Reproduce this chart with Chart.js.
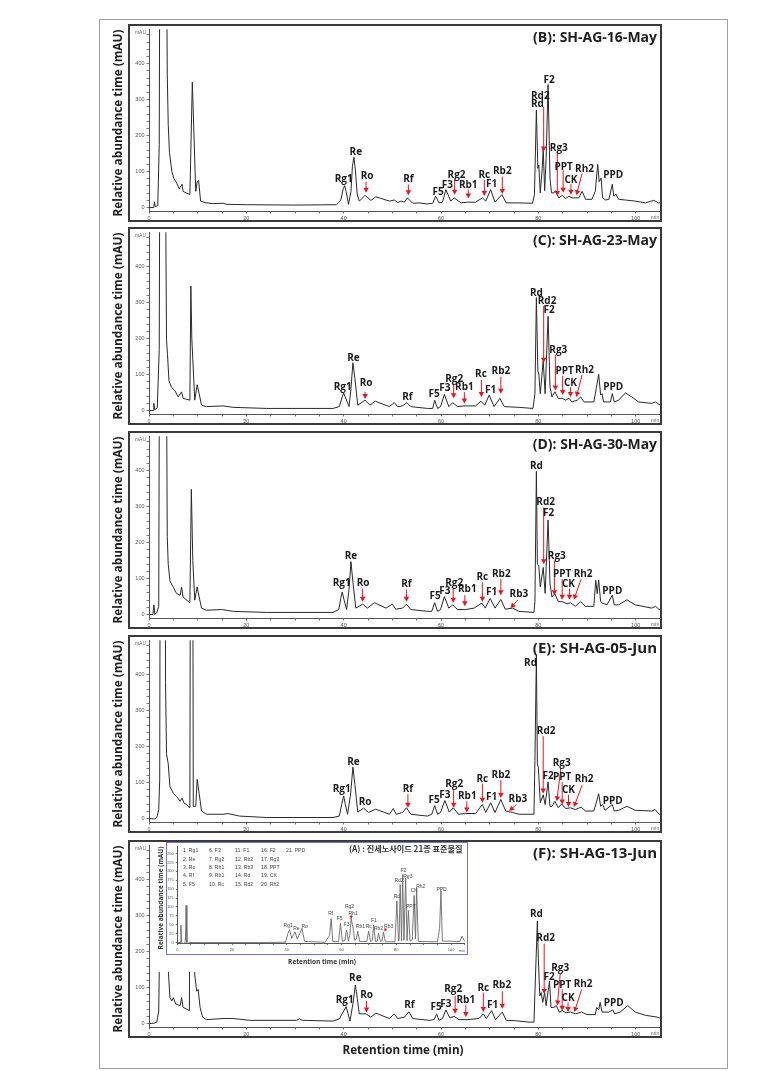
<!DOCTYPE html>
<html>
<head>
<meta charset="utf-8">
<script src="https://cdn.jsdelivr.net/npm/chart.js@4.4.1/dist/chart.umd.min.js"></script>
<style>
  body { margin: 0; background: #fff; width: 777px; height: 1071px; position: relative; overflow: hidden; font-family: "Open Sans", sans-serif; }
  canvas { position: absolute; }
  .box { position: absolute; border: 2px solid #3a3a3a; box-sizing: border-box; pointer-events: none; }
  .frame { position: absolute; left: 99px; top: 19px; width: 629px; height: 1050px; border: 1px solid #a0a0a0; box-sizing: border-box; }
  .inset-box { position: absolute; left: 166px; top: 842px; width: 302px; height: 113px; border: 1.5px solid #7474d8; box-sizing: border-box; pointer-events: none; }
  .t { position: absolute; white-space: nowrap; font-weight: 700; color: #1e1e1e; line-height: 1; }
</style>
</head>
<body>
<div class="frame"></div>
<script>
// ---- data: [retention time (min), abundance (mAU)] ----
const traceB = [[0,0],[1.0,0],[1.1,16],[1.3,3],[1.8,5],[2.1,176],[2.4,1500],[3.3,1500],[3.75,371],[3.95,231],[4.2,154],[4.7,100],[5.1,81],[5.7,68],[6.2,52],[6.8,65],[7.0,45],[8.4,36],[8.9,349],[9.6,45],[9.9,72],[10.2,75],[10.6,18],[11.5,14],[13,11],[15.2,12],[16,9],[20,8],[30,7],[38.5,8],[39.4,20],[39.9,52],[40.2,61],[40.5,45],[41.0,9],[41.5,45],[41.8,115],[42.1,140],[42.4,105],[42.8,35],[43.2,18],[44.4,34],[45.6,20],[46.6,30],[49.4,18],[50.4,21],[51.1,14],[51.8,18],[52.5,15],[53.1,27],[54.2,12],[55.5,13],[57.2,10],[58.3,12],[58.9,32],[59.6,13],[60.3,15],[61.0,50],[62.0,18],[62.7,27],[64.1,13],[65.4,15],[67.1,15],[68.5,27],[69.2,18],[70.2,50],[71.1,15],[72.5,36],[73.4,13],[76.0,13],[78.8,12],[79.2,36],[79.6,271],[79.9,109],[80.1,118],[80.4,41],[80.8,109],[81.0,163],[81.3,47],[81.6,136],[82.0,342],[82.4,82],[82.7,41],[83.2,41],[83.5,47],[84.2,27],[84.9,34],[85.6,25],[86.3,32],[86.9,27],[87.6,27],[88.3,27],[89.0,45],[89.7,23],[91.0,23],[91.7,45],[92.2,120],[92.5,72],[92.9,82],[93.2,27],[93.8,21],[94.5,23],[95.2,65],[95.5,32],[95.9,38],[96.5,23],[97.9,21],[99.9,18],[102.0,13],[103.7,20],[104.7,13],[105,13]];
const traceC = [[0,0],[0.9,0],[1.0,20],[1.15,3],[1.7,7],[2.1,169],[2.4,1500],[3.0,1500],[3.6,197],[3.8,156],[4.1,83],[4.6,65],[5.3,56],[6.0,38],[6.7,52],[7.0,34],[8.4,29],[8.6,346],[8.8,200],[9.4,29],[9.9,72],[10.3,47],[10.8,15],[11.8,11],[15.2,13],[17.3,9],[24.1,6],[37.8,6],[39.1,11],[39.7,38],[40.0,49],[40.4,35],[41.1,11],[41.5,60],[41.9,133],[42.3,90],[42.9,15],[44.4,29],[45.4,15],[46.5,26],[49.4,11],[50.4,22],[51.1,11],[52.1,13],[53.0,22],[53.8,11],[57.2,6],[58.3,6],[58.7,29],[59.3,6],[59.9,11],[60.7,45],[61.6,11],[62.4,22],[63.4,11],[64.8,13],[67.1,13],[68.2,26],[69.0,15],[69.9,43],[70.9,11],[72.1,34],[73.0,11],[76.0,9],[78.9,6],[79.3,47],[79.6,314],[79.9,110],[80.1,101],[80.4,47],[81.0,138],[81.4,47],[82.0,262],[82.4,65],[82.8,38],[83.4,52],[84.1,34],[84.9,34],[85.6,29],[86.3,34],[86.9,24],[88.0,29],[88.7,38],[89.4,24],[91.4,24],[91.9,61],[92.4,101],[92.8,43],[93.1,47],[93.4,24],[94.8,24],[95.2,47],[95.6,24],[96.5,29],[97.9,49],[99.2,38],[100.6,24],[103.3,20],[104.1,24],[104.8,17],[105,17]];
const traceD = [[0,0],[0.8,0],[1.0,27],[1.2,0],[1.6,6],[2.0,23],[2.3,1500],[3.3,1500],[3.75,217],[3.95,140],[4.3,94],[4.6,85],[5.0,76],[5.7,58],[6.4,54],[6.7,76],[7.0,49],[8.1,36],[8.4,33],[8.7,348],[9.0,150],[9.4,40],[9.9,77],[10.3,49],[10.8,18],[11.8,12],[14.9,14],[17.3,9],[24.1,6],[37.8,6],[39.0,14],[39.4,45],[39.7,63],[40.1,40],[40.6,14],[41.1,70],[41.5,147],[41.9,90],[42.5,18],[43.9,29],[44.9,18],[46.3,33],[48.7,18],[50.0,29],[50.7,15],[52.1,18],[52.9,29],[53.8,14],[57.2,9],[58.1,9],[58.7,33],[59.3,9],[59.9,14],[60.7,50],[61.6,18],[62.4,27],[63.4,14],[65.1,14],[66.8,18],[68.4,32],[69.1,18],[70.1,45],[71.1,18],[72.3,42],[73.2,15],[74.7,18],[76.0,9],[79.1,6],[79.3,36],[79.6,398],[79.8,140],[80.1,136],[80.4,77],[81.0,131],[81.4,59],[82.0,263],[82.4,86],[82.8,49],[83.4,58],[84.1,36],[84.9,36],[85.9,30],[86.6,33],[87.6,23],[88.7,36],[89.7,23],[91.4,23],[91.8,95],[92.1,58],[92.4,96],[92.8,36],[93.2,32],[94.1,27],[95.2,54],[95.6,27],[96.5,27],[98.2,41],[99.9,27],[103.3,18],[104.1,23],[104.8,14],[105,14]];
const traceE = [[0,0],[1.2,-1],[1.6,3],[2.0,25],[2.2,107],[2.4,1500],[3.2,1500],[3.4,378],[3.6,180],[3.95,152],[4.3,89],[5.0,70],[5.7,61],[6.4,48],[6.8,57],[7.2,43],[7.7,39],[8.4,30],[8.6,1500],[8.9,1500],[9.1,34],[9.6,34],[9.9,109],[10.3,70],[10.8,21],[11.8,12],[15.2,12],[16.2,14],[18.6,7],[24.1,3],[37.8,3],[39.1,7],[39.6,40],[40.0,63],[40.3,42],[40.8,12],[41.4,65],[41.9,143],[42.3,95],[42.9,18],[44.1,29],[45.1,17],[46.6,26],[49.4,12],[50.2,28],[50.8,12],[52.1,17],[52.9,30],[53.8,12],[57.2,7],[58.1,12],[58.7,36],[59.3,12],[59.9,17],[60.8,50],[61.7,18],[62.5,30],[63.6,12],[65.1,14],[67.1,14],[68.5,39],[69.2,17],[70.2,44],[71.1,17],[72.3,53],[73.3,21],[74.7,17],[76.0,12],[79.1,12],[79.3,161],[79.6,455],[79.8,152],[80.0,143],[80.4,44],[81.0,66],[81.4,39],[82.0,102],[82.4,34],[82.8,34],[83.4,48],[84.1,30],[84.8,41],[85.6,28],[86.6,30],[87.6,25],[88.8,32],[89.7,21],[91.4,21],[91.9,44],[92.4,69],[92.8,34],[93.2,39],[93.7,23],[95.2,39],[95.6,21],[96.5,23],[98.2,34],[99.9,23],[103.3,21],[104.0,25],[104.8,12],[105,12]];
const traceF = [[0,0],[1.0,1],[1.6,4],[2.0,35],[2.1,140],[2.4,1500],[3.5,1500],[4.0,140],[4.3,72],[4.7,63],[5.0,72],[5.5,54],[6.4,50],[6.7,72],[7.0,45],[7.6,41],[8.3,36],[8.6,1500],[9.1,1500],[9.4,135],[9.8,90],[10.1,95],[10.5,45],[11.0,18],[11.8,11],[15.2,14],[17.3,14],[20.7,9],[30.3,9],[30.9,13],[31.5,9],[37.8,7],[39.1,13],[40.0,35],[40.5,47],[40.9,28],[41.3,7],[41.9,55],[42.4,107],[42.8,70],[43.2,27],[44.6,27],[45.6,18],[46.6,29],[49.4,14],[50.4,27],[51.1,14],[52.5,18],[53.4,33],[54.2,14],[57.6,9],[58.6,11],[59.1,27],[59.6,9],[60.3,14],[61.0,38],[61.8,16],[62.7,20],[63.7,11],[65.4,11],[67.8,14],[68.7,27],[69.3,14],[70.4,36],[71.2,11],[72.6,32],[73.4,9],[75.3,8],[78.1,4],[79.1,4],[79.4,127],[79.8,285],[80.0,181],[80.3,77],[80.6,86],[80.9,59],[81.3,86],[81.6,50],[82.3,118],[82.6,45],[83.2,45],[83.7,50],[84.3,32],[84.9,36],[85.7,30],[86.6,32],[87.6,27],[88.9,32],[90.0,25],[91.7,25],[92.0,45],[92.4,38],[92.7,59],[93.1,32],[94.5,32],[95.3,38],[95.7,27],[96.8,32],[98.4,50],[99.9,32],[102.0,23],[104.4,18],[105,15]];
// (A) standard mixture shown in the inset
const traceA = [[0,0],[1.0,0],[1.3,49],[1.6,0],[2.5,-5],[2.8,0],[3.0,10],[3.2,104],[3.5,0],[3.8,-4],[4.2,0],[10,0],[30,0],[39.5,1],[40.4,25],[41.0,36],[41.8,12],[42.5,22],[43.0,30],[43.8,10],[44.7,24],[45.5,40],[46.5,3],[54,1],[55.6,20],[56.2,67],[56.8,3],[58.9,2],[59.6,54],[60.3,3],[61.2,6],[61.8,35],[62.5,5],[63.0,20],[63.5,68],[64.2,40],[64.8,6],[65.4,10],[65.9,32],[66.6,3],[69.2,3],[69.9,32],[70.6,3],[71.2,6],[71.7,49],[72.4,3],[73.0,4],[73.5,26],[74.2,3],[74.8,5],[75.3,29],[76,2],[79.5,2],[80.2,117],[80.8,4],[81.0,10],[81.4,163],[81.9,5],[82.3,191],[82.8,6],[83.4,181],[83.9,5],[84.4,90],[85.0,4],[85.8,8],[86.5,132],[87.0,10],[87.4,154],[88.0,3],[95,2],[95.8,40],[96.3,146],[96.8,4],[103.2,3],[104,18],[104.8,5],[105,4]];

// peak labels: [name, time, mAU]
const labelsB = [['Rg1',40.0,79],['Re',42.5,154],['Ro',44.8,86],['Rf',53.3,79],['F5',59.4,43],['F3',61.3,63],['Rg2',63.2,89],['Rb1',65.6,63],['Rc',68.9,90],['F1',70.4,65],['Rb2',72.6,101],['Rd',79.8,287],['Rd2',80.4,310],['F2',82.2,355],['Rg3',84.2,166],['PPT',85.2,113],['CK',86.7,77],['Rh2',89.5,106],['PPD',95.4,89]];
const labelsC = [['Rg1',39.8,65],['Re',42.0,147],['Ro',44.6,76],['Rf',53.1,38],['F5',58.6,47],['F3',60.8,62],['Rg2',62.7,88],['Rb1',64.8,65],['Rc',68.2,100],['F1',70.2,58],['Rb2',72.3,109],['Rd',79.6,326],['Rd2',81.8,303],['F2',82.2,280],['Rg3',84.1,169],['PPT',85.4,110],['CK',86.6,77],['Rh2',89.5,113],['PPD',95.4,65]];
const labelsD = [['Rg1',39.6,86],['Re',41.5,163],['Ro',44.0,88],['Rf',52.9,84],['F5',58.8,50],['F3',60.8,66],['Rg2',62.7,88],['Rb1',65.4,70],['Rc',68.5,104],['F1',70.4,61],['Rb2',72.4,113],['Rb3',76.0,57],['Rd',79.6,412],['Rd2',81.5,312],['F2',82.1,281],['Rg3',83.8,163],['PPT',84.9,111],['CK',86.2,84],['Rh2',89.2,113],['PPD',95.2,65]];
const labelsE = [['Rg1',39.6,82],['Re',42.0,156],['Ro',44.4,46],['Rf',53.2,81],['F5',58.6,50],['F3',60.8,66],['Rg2',62.7,96],['Rb1',65.4,61],['Rc',68.5,110],['F1',70.4,60],['Rb2',72.3,120],['Rb3',75.8,55],['Rd',78.4,433],['Rd2',81.6,243],['F2',82.0,118],['Rg3',84.8,154],['PPT',84.9,116],['CK',86.2,80],['Rh2',89.4,109],['PPD',95.3,48]];
const labelsF = [['Rg1',40.2,65],['Re',42.4,127],['Ro',44.7,79],['Rf',53.5,52],['F5',59.0,45],['F3',61.0,54],['Rg2',62.5,95],['Rb1',65.1,66],['Rc',68.7,99],['F1',70.6,52],['Rb2',72.5,106],['Rd',79.6,303],['Rd2',81.5,237],['F2',82.2,128],['Rg3',84.5,154],['PPT',84.9,107],['CK',86.1,71],['Rh2',89.2,109],['PPD',95.5,56]];
const labelsA = [['Rg1',40.5,48],['Re',43.5,40],['Ro',46.5,46],['Rf',56.0,80],['F5',59.3,66],['F3',61.8,50],['Rg2',62.9,101],['Rh1',64.2,82],['Rb1',66.9,46],['Rc',69.9,46],['F1',71.8,62],['Rb2',73.5,39],['Rb3',77.2,46],['Rd',80.2,129],['Rd2',81.0,175],['F2',82.6,201],['Rg3',84.2,185],['PPT',85.3,102],['CK',86.5,145],['Rh2',88.9,158],['PPD',96.5,150]];

// red arrows: [fromTime, fromMAU, toTime, toMAU]
const arrowsB = [[44.6,72,44.6,41],[53.3,64,53.3,34],[62.8,78,62.8,36],[65.6,50,65.6,25],[68.9,77,68.9,32],[72.6,86,72.6,38],[81.1,281,81.1,156],[83.9,154,83.9,32],[85.1,104,85.1,41],[86.7,65,86.7,36],[89.0,95,87.8,34]];
const arrowsC = [[44.4,52,44.4,32],[62.6,75,62.6,34],[64.8,51,64.8,20],[68.3,85,68.3,38],[72.3,94,72.3,47],[81.1,291,81.1,133],[83.5,155,83.5,56],[85.0,97,85.0,43],[86.6,65,86.6,38],[89.0,99,87.8,38]];
const arrowsD = [[43.9,72,43.9,36],[52.9,70,52.9,36],[62.5,72,62.5,33],[64.9,54,64.9,23],[68.5,90,68.5,36],[72.3,99,72.3,54],[75.8,41,74.3,18],[81.1,298,81.1,140],[83.3,149,83.3,54],[84.9,99,84.9,41],[86.4,72,86.4,41],[88.8,99,87.3,41]];
const arrowsE = [[53.2,68,53.2,30],[62.6,79,62.6,30],[65.3,48,65.3,17],[68.5,97,68.5,44],[72.3,107,72.3,57],[75.5,39,74.0,21],[81.0,229,81.0,70],[84.6,138,83.8,48],[84.9,102,84.9,39],[86.2,66,86.2,32],[89.0,93,87.3,32]];
const arrowsF = [[44.7,63,44.7,31],[62.9,77,62.9,27],[65.1,52,65.1,18],[68.7,86,68.7,32],[72.6,90,72.6,41],[81.2,222,81.2,82],[84.5,138,83.9,50],[84.9,95,84.9,36],[86.1,59,86.1,32],[88.9,95,87.4,32]];
const arrowsA = [[63.5,78,63.5,66],[76.3,40,75.6,31]];

// axes
const xTickLabels = [0, 20, 40, 60, 80, 100];
const yTickLabels = [0, 100, 200, 300, 400];
const insetYTickLabels = [0, 25, 50, 75, 100, 125, 150, 175, 200, 225, 250];
const panelTitles = ['(B): SH-AG-16-May', '(C): SH-AG-23-May', '(D): SH-AG-30-May', '(E): SH-AG-05-Jun', '(F): SH-AG-13-Jun'];
const standards = ['Rg1','Re','Ro','Rf','F5','F3','Rg2','Rh1','Rb1','Rc','F1','Rb2','Rb3','Rd','Rd2','F2','Rg3','PPT','CK','Rh2','PPD'];

const traces = [traceB, traceC, traceD, traceE, traceF];
const labelSets = [labelsB, labelsC, labelsD, labelsE, labelsF];
const arrowSets = [arrowsB, arrowsC, arrowsD, arrowsE, arrowsF];

const boxLeft = 128, boxW = 534, boxH = 198;
const boxTops = [24, 227, 431, 635, 840];

function steps(a, b, s) { const r = []; for (let v = a; v <= b + 1e-9; v += s) r.push(v); return r; }

const annotate = {
  id: 'annotate',
  afterDatasetsDraw(chart, args, o) {
    const { ctx, scales: { x, y } } = chart;
    ctx.save();
    ctx.strokeStyle = o.arrowColor; ctx.fillStyle = o.arrowColor; ctx.lineWidth = o.arrowWidth;
    o.arrows.forEach(a => {
      const x1 = x.getPixelForValue(a[0]), y1 = y.getPixelForValue(a[1]);
      const x2 = x.getPixelForValue(a[2]), y2 = y.getPixelForValue(a[3]);
      const ang = Math.atan2(y2 - y1, x2 - x1), c = Math.cos(ang), s = Math.sin(ang), h = o.head, w = o.head * 0.55;
      ctx.beginPath(); ctx.moveTo(x1, y1); ctx.lineTo(x2 - c * h * 0.7, y2 - s * h * 0.7); ctx.stroke();
      ctx.beginPath(); ctx.moveTo(x2, y2);
      ctx.lineTo(x2 - c * h - s * w, y2 - s * h + c * w);
      ctx.lineTo(x2 - c * h + s * w, y2 - s * h - c * w);
      ctx.closePath(); ctx.fill();
    });
    ctx.font = o.font; ctx.fillStyle = o.color; ctx.textAlign = 'center'; ctx.textBaseline = 'middle';
    o.labels.forEach(l => ctx.fillText(l[0], x.getPixelForValue(l[1]), y.getPixelForValue(l[2])));
    ctx.font = o.smallFont; ctx.fillStyle = '#666';
    if (o.unit) { ctx.textAlign = 'right'; ctx.fillText('mAU', x.left - 3, y.top + 3); }
    ctx.textAlign = 'center';
    ctx.fillText('min', x.getPixelForValue(104), x.top + o.minOffset);
    ctx.restore();
  }
};

const whiteBg = {
  id: 'whiteBg',
  beforeDraw(chart) { const c = chart.ctx; c.save(); c.fillStyle = '#fff'; c.fillRect(0, 0, chart.width, chart.height); c.restore(); }
};

function makeCanvas(left, top, w, h) {
  const c = document.createElement('canvas');
  c.width = w; c.height = h;
  c.style.left = left + 'px'; c.style.top = top + 'px';
  document.body.appendChild(c);
  return c;
}

function axis(min, max, step, labelled, size, width, tick) {
  return {
    type: 'linear', min: min, max: max,
    afterBuildTicks: s => { s.ticks = steps(Math.max(0, min), max, step).map(v => ({ value: v })); },
    grid: { drawOnChartArea: false, drawTicks: true, tickLength: tick, color: '#777' },
    border: { color: '#555', width: 1 },
    ticks: { autoSkip: false, maxRotation: 0, minRotation: 0, padding: 2, color: '#555',
      font: { size: size, family: '"Liberation Sans", Arial' },
      callback: v => labelled.includes(Math.round(v * 100) / 100) ? String(v) : '' }
  };
}

traces.forEach((tr, i) => {
  const cv = makeCanvas(boxLeft, boxTops[i], boxW, boxH);
  const xs = axis(0, 105, 5, xTickLabels, 5.5, 1, 2.5);
  xs.afterFit = s => { s.height = 11; };
  const ys = axis(-9.5, 495.5, 20, yTickLabels, 5.5, 1, 2.5);
  ys.afterFit = s => { s.width = 21; };
  new Chart(cv, {
    type: 'line',
    data: { datasets: [{ data: tr.map(p => ({ x: p[0], y: p[1] })), borderColor: '#2a2a2a', borderWidth: 1, pointRadius: 0, tension: 0 }] },
    options: {
      responsive: false, animation: false, events: [],
      layout: { padding: { left: 0, right: 1, top: 1, bottom: 0 } },
      plugins: { legend: { display: false }, tooltip: { enabled: false },
        annotate: { labels: labelSets[i], arrows: arrowSets[i], font: 'bold 10px "Open Sans"', color: '#1a1a1a',
          arrowColor: '#e5161e', arrowWidth: 1, head: 5, unit: true, smallFont: '5px "Liberation Sans"', minOffset: 6.5 } },
      scales: { x: xs, y: ys }
    },
    plugins: [annotate]
  });
  const b = document.createElement('div');
  b.className = 'box';
  b.style.left = boxLeft + 'px'; b.style.top = boxTops[i] + 'px'; b.style.width = boxW + 'px'; b.style.height = boxH + 'px';
  document.body.appendChild(b);
});

// inset: standard mixture (A)
(function () {
  const cv = makeCanvas(153, 842, 317, 130);
  const xs = axis(0, 105, 5, xTickLabels, 4, 1, 1.5);
  xs.afterFit = s => { s.height = 28.4; };
  const ys = axis(-3, 270, 25, insetYTickLabels, 4, 1, 1.5);
  ys.afterFit = s => { s.width = 24.3; };
  new Chart(cv, {
    type: 'line',
    data: { datasets: [{ data: traceA.map(p => ({ x: p[0], y: p[1] })), borderColor: '#6a6a6a', borderWidth: 0.9, pointRadius: 0, tension: 0 }] },
    options: {
      responsive: false, animation: false, events: [],
      layout: { padding: { left: 0, right: 5.2, top: 3.3, bottom: 0 } },
      plugins: { legend: { display: false }, tooltip: { enabled: false },
        annotate: { labels: labelsA, arrows: arrowsA, font: '5px "Liberation Sans"', color: '#444',
          arrowColor: '#e5161e', arrowWidth: 0.8, head: 3, unit: false, smallFont: '4px "Liberation Sans"', minOffset: 7 } },
      scales: { x: xs, y: ys }
    },
    plugins: [whiteBg, annotate]
  });
  const b = document.createElement('div'); b.className = 'inset-box'; document.body.appendChild(b);
})();

// text
function addText(txt, x, y, opt) {
  const d = document.createElement('div');
  d.className = 't'; d.textContent = txt;
  if (opt.family) d.style.fontFamily = opt.family;
  if (opt.weight) d.style.fontWeight = opt.weight;
  if (opt.color) d.style.color = opt.color;
  d.style.fontSize = '20px';
  document.body.appendChild(d);
  d.style.fontSize = (opt.width ? 20 * opt.width / d.offsetWidth : opt.size) + 'px';
  d.style.left = x + 'px'; d.style.top = y + 'px';
  const ax = opt.align === 'right' ? '-100%' : opt.align === 'left' ? '0' : '-50%';
  d.style.transform = 'translate(' + ax + ',-50%)' + (opt.rotate ? ' rotate(-90deg)' : '');
}

boxTops.forEach((t, i) => {
  addText('Relative abundance time (mAU)', 118, t + 99, { width: 187, rotate: true });
  addText(panelTitles[i], 657, t + 13, { width: 124, align: 'right' });
});
addText('Retention time (min)', 403, 1050, { width: 121 });

addText('(A) : 진세노사이드 21종 표준물질', 349, 849, { width: 114, align: 'left', family: '"Noto Sans CJK KR", sans-serif', color: '#333' });
addText('Relative abundance time (mAU)', 160.5, 898, { width: 103, rotate: true, color: '#333' });
addText('Retention time (min)', 322, 962, { width: 68, color: '#333' });

const legendCols = [183, 209, 235, 261, 286];
const legendRows = [851, 859.5, 868, 876.3, 884.5];
standards.forEach((n, k) => {
  addText((k + 1) + '.  ' + n, legendCols[Math.floor(k / 5)], legendRows[k % 5],
    { size: 5.2, align: 'left', weight: 400, color: '#444', family: '"Liberation Sans", Arial' });
});
</script>
</body>
</html>
